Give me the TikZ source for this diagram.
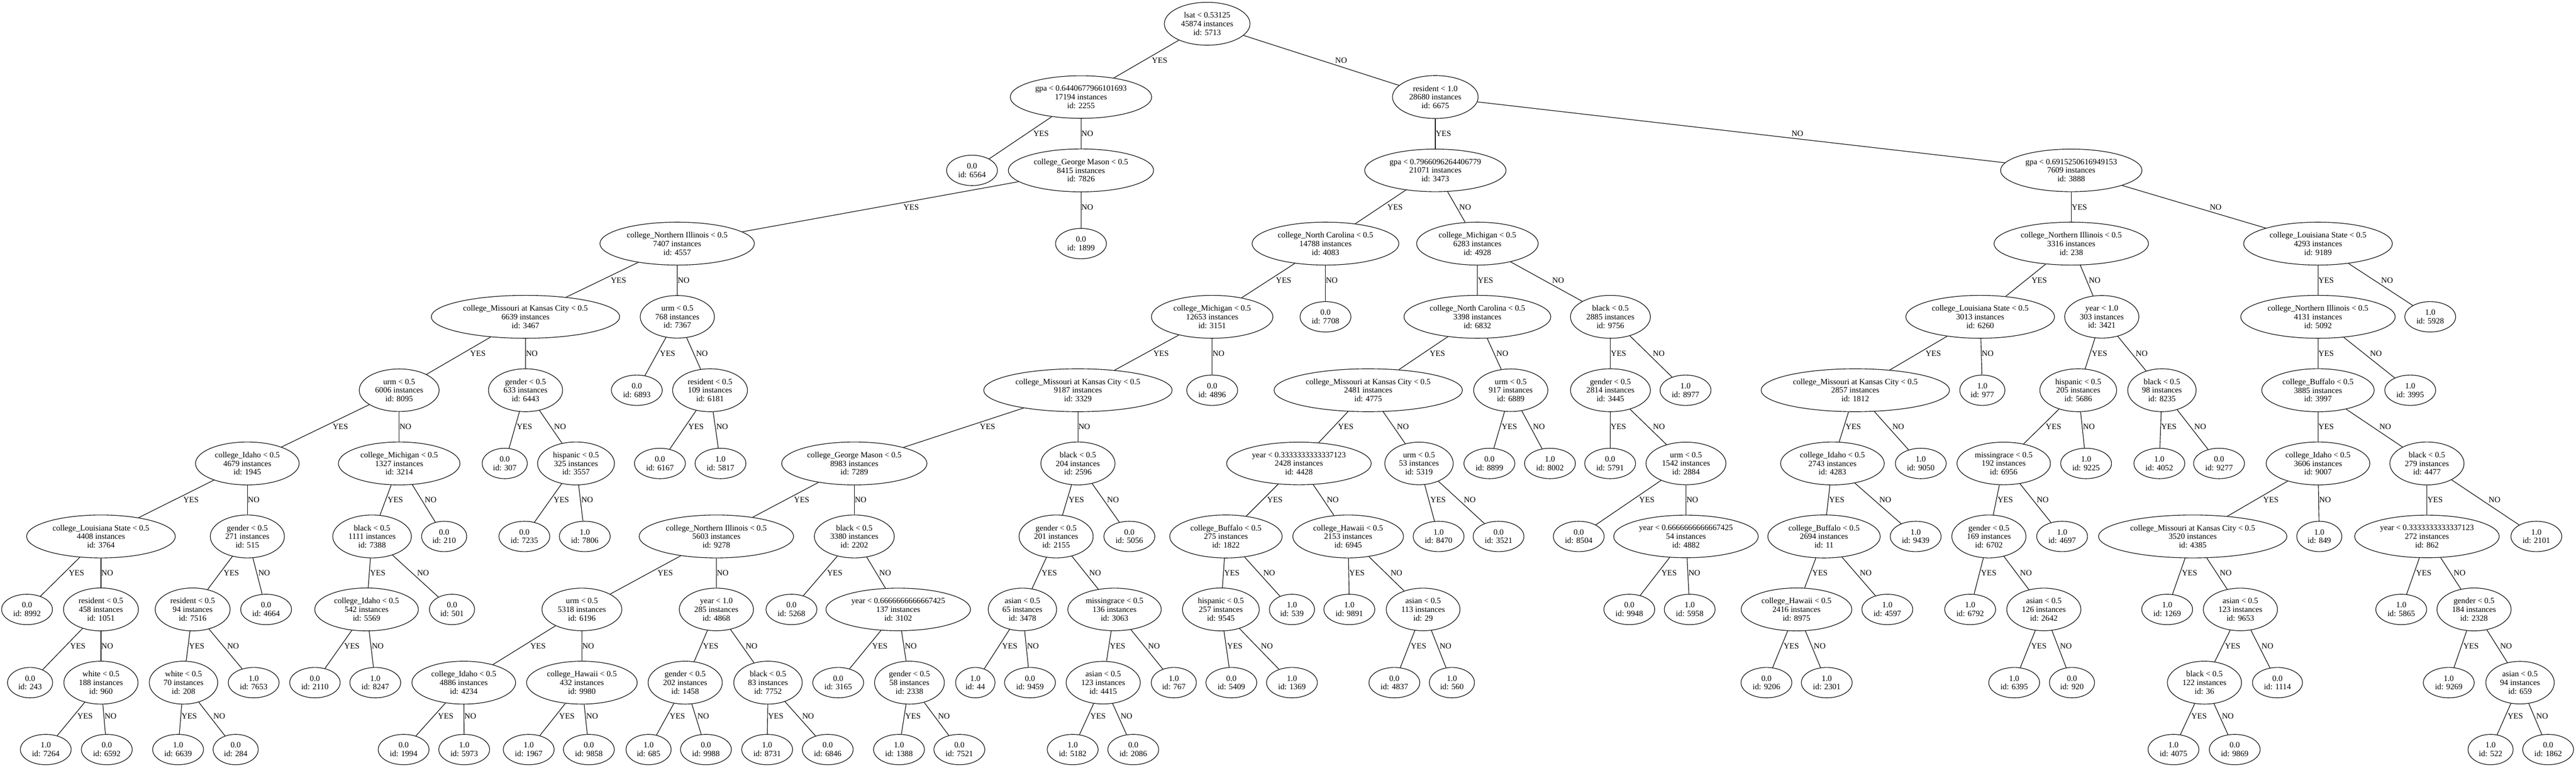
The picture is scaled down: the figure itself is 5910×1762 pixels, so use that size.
\documentclass[tikz,border=0pt]{standalone}
\usepackage{fontspec}
\setmainfont{Liberation Serif}
\usetikzlibrary{shapes.geometric,calc}
\newcommand\fsz{\fontsize{14}{14.85}\selectfont}
\tikzset{
  nd/.style={draw, ellipse, line width=1pt, inner xsep=7.2pt, inner ysep=6.3pt, align=center, font=\fsz},
  edgeline/.style={line width=1pt},
  lab/.style={anchor=west, inner sep=0.5pt, font=\fsz}
}
\newcommand\edg[3]{%
  \draw[edgeline] (#1) -- (#2);
  \path let \p1=(#1.center), \p2=(#2.center) in
    node[lab] at ({(\x1+\x2)/2+abs(\x2-\x1)/abs((\y2)-(\y1))*7.5pt},{((\y1)+(\y2))/2}) {#3};
}
\begin{document}
\begin{tikzpicture}[x=0.75pt,y=-0.75pt]
\useasboundingbox (0,0) rectangle (5910,1762);
% L0
\node[nd] (n5713) at (2769.5,54.5) {lsat < 0.53125\\45874 instances\\id: 5713};
% L1
\node[nd] (n2255) at (2480,222.7) {gpa < 0.6440677966101693\\17194 instances\\id: 2255};
\node[nd] (n6675) at (3293,222.7) {resident < 1.0\\28680 instances\\id: 6675};
% L2
\node[nd] (n6564) at (2230,391) {0.0\\id: 6564};
\node[nd] (n7826) at (2480,391) {college\_George Mason < 0.5\\8415 instances\\id: 7826};
\node[nd] (n3473) at (3293,391) {gpa < 0.7966096264406779\\21071 instances\\id: 3473};
\node[nd] (n3888) at (4752,391) {gpa < 0.6915250616949153\\7609 instances\\id: 3888};
% L3
\node[nd] (n4557) at (1553.6,559) {college\_Northern Illinois < 0.5\\7407 instances\\id: 4557};
\node[nd] (n1899) at (2480,559) {0.0\\id: 1899};
\node[nd] (n4083) at (3041,559) {college\_North Carolina < 0.5\\14788 instances\\id: 4083};
\node[nd] (n4928) at (3389.5,559) {college\_Michigan < 0.5\\6283 instances\\id: 4928};
\node[nd] (n238) at (4752,559) {college\_Northern Illinois < 0.5\\3316 instances\\id: 238};
\node[nd] (n9189) at (5318,559) {college\_Louisiana State < 0.5\\4293 instances\\id: 9189};
% L4
\node[nd] (n3467) at (1205.6,727) {college\_Missouri at Kansas City < 0.5\\6639 instances\\id: 3467};
\node[nd] (n7367) at (1554,727) {urm < 0.5\\768 instances\\id: 7367};
\node[nd] (n3151) at (2781,727) {college\_Michigan < 0.5\\12653 instances\\id: 3151};
\node[nd] (n7708) at (3041,727) {0.0\\id: 7708};
\node[nd] (n6832) at (3389.5,727) {college\_North Carolina < 0.5\\3398 instances\\id: 6832};
\node[nd] (n9756) at (3694.7,727) {black < 0.5\\2885 instances\\id: 9756};
\node[nd] (n6260) at (4543,727) {college\_Louisiana State < 0.5\\3013 instances\\id: 6260};
\node[nd] (n3421) at (4822,727) {year < 1.0\\303 instances\\id: 3421};
\node[nd] (n5092) at (5318,727) {college\_Northern Illinois < 0.5\\4131 instances\\id: 5092};
\node[nd] (n5928) at (5575.5,727) {1.0\\id: 5928};
% L5
\node[nd] (n8095) at (915.8,895.5) {urm < 0.5\\6006 instances\\id: 8095};
\node[nd] (n6443) at (1205.7,895.5) {gender < 0.5\\633 instances\\id: 6443};
\node[nd] (n6893) at (1461,895.5) {0.0\\id: 6893};
\node[nd] (n6181) at (1629,895.5) {resident < 0.5\\109 instances\\id: 6181};
\node[nd] (n3329) at (2473,895.5) {college\_Missouri at Kansas City < 0.5\\9187 instances\\id: 3329};
\node[nd] (n4896) at (2781,895.5) {0.0\\id: 4896};
\node[nd] (n4775) at (3139,895.5) {college\_Missouri at Kansas City < 0.5\\2481 instances\\id: 4775};
\node[nd] (n6889) at (3466,895.5) {urm < 0.5\\917 instances\\id: 6889};
\node[nd] (n3445) at (3694.7,895.5) {gender < 0.5\\2814 instances\\id: 3445};
\node[nd] (n8977) at (3867,895.5) {1.0\\id: 8977};
\node[nd] (n1812) at (4256.5,895.5) {college\_Missouri at Kansas City < 0.5\\2857 instances\\id: 1812};
\node[nd] (n977) at (4548,895.5) {1.0\\id: 977};
\node[nd] (n5686) at (4768,895.5) {hispanic < 0.5\\205 instances\\id: 5686};
\node[nd] (n8235) at (4960,895.5) {black < 0.5\\98 instances\\id: 8235};
\node[nd] (n3997) at (5318,895.5) {college\_Buffalo < 0.5\\3885 instances\\id: 3997};
\node[nd] (n3995) at (5529.6,895.5) {1.0\\id: 3995};
% L6
\node[nd] (n1945) at (567.5,1063.5) {college\_Idaho < 0.5\\4679 instances\\id: 1945};
\node[nd] (n3214) at (915.8,1063.5) {college\_Michigan < 0.5\\1327 instances\\id: 3214};
\node[nd] (n307) at (1158,1063.5) {0.0\\id: 307};
\node[nd] (n3557) at (1321.5,1063.5) {hispanic < 0.5\\325 instances\\id: 3557};
\node[nd] (n6167) at (1514,1063.5) {0.0\\id: 6167};
\node[nd] (n5817) at (1653,1063.5) {1.0\\id: 5817};
\node[nd] (n7289) at (1960,1063.5) {college\_George Mason < 0.5\\8983 instances\\id: 7289};
\node[nd] (n2596) at (2473,1063.5) {black < 0.5\\204 instances\\id: 2596};
\node[nd] (n4428) at (2980,1063.5) {year < 0.3333333333337123\\2428 instances\\id: 4428};
\node[nd] (n5319) at (3255.5,1063.5) {urm < 0.5\\53 instances\\id: 5319};
\node[nd] (n8899) at (3417,1063.5) {0.0\\id: 8899};
\node[nd] (n8002) at (3556,1063.5) {1.0\\id: 8002};
\node[nd] (n5791) at (3694,1063.5) {0.0\\id: 5791};
\node[nd] (n2884) at (3868,1063.5) {urm < 0.5\\1542 instances\\id: 2884};
\node[nd] (n4283) at (4204,1063.5) {college\_Idaho < 0.5\\2743 instances\\id: 4283};
\node[nd] (n9050) at (4406.7,1063.5) {1.0\\id: 9050};
\node[nd] (n6956) at (4597,1063.5) {missingrace < 0.5\\192 instances\\id: 6956};
\node[nd] (n9225) at (4786,1063.5) {1.0\\id: 9225};
\node[nd] (n4052) at (4954,1063.5) {1.0\\id: 4052};
\node[nd] (n9277) at (5091,1063.5) {0.0\\id: 9277};
\node[nd] (n9007) at (5318,1063.5) {college\_Idaho < 0.5\\3606 instances\\id: 9007};
\node[nd] (n4477) at (5568,1063.5) {black < 0.5\\279 instances\\id: 4477};
% L7
\node[nd] (n3764) at (231.6,1231) {college\_Louisiana State < 0.5\\4408 instances\\id: 3764};
\node[nd] (n515) at (567.5,1231) {gender < 0.5\\271 instances\\id: 515};
\node[nd] (n7388) at (853.6,1231) {black < 0.5\\1111 instances\\id: 7388};
\node[nd] (n210) at (1019,1231) {0.0\\id: 210};
\node[nd] (n7235) at (1203,1231) {0.0\\id: 7235};
\node[nd] (n7806) at (1341.6,1231) {1.0\\id: 7806};
\node[nd] (n9278) at (1643.5,1231) {college\_Northern Illinois < 0.5\\5603 instances\\id: 9278};
\node[nd] (n2202) at (1960,1231) {black < 0.5\\3380 instances\\id: 2202};
\node[nd] (n2155) at (2423,1231) {gender < 0.5\\201 instances\\id: 2155};
\node[nd] (n5056) at (2591,1231) {0.0\\id: 5056};
\node[nd] (n1822) at (2812.6,1231) {college\_Buffalo < 0.5\\275 instances\\id: 1822};
\node[nd] (n6945) at (3093,1231) {college\_Hawaii < 0.5\\2153 instances\\id: 6945};
\node[nd] (n8470) at (3300.5,1231) {1.0\\id: 8470};
\node[nd] (n3521) at (3438,1231) {0.0\\id: 3521};
\node[nd] (n8504) at (3622,1231) {0.0\\id: 8504};
\node[nd] (n4882) at (3868,1231) {year < 0.6666666666667425\\54 instances\\id: 4882};
\node[nd] (n11) at (4184.7,1231) {college\_Buffalo < 0.5\\2694 instances\\id: 11};
\node[nd] (n9439) at (4395,1231) {1.0\\id: 9439};
\node[nd] (n6702) at (4563,1231) {gender < 0.5\\169 instances\\id: 6702};
\node[nd] (n4697) at (4731,1231) {1.0\\id: 4697};
\node[nd] (n4385) at (5030.6,1231) {college\_Missouri at Kansas City < 0.5\\3520 instances\\id: 4385};
\node[nd] (n849) at (5321,1231) {1.0\\id: 849};
\node[nd] (n862) at (5568,1231) {year < 0.3333333333337123\\272 instances\\id: 862};
\node[nd] (n2101) at (5819,1231) {1.0\\id: 2101};
% L8
\node[nd] (n8992) at (62,1398.5) {0.0\\id: 8992};
\node[nd] (n1051) at (231.6,1398.5) {resident < 0.5\\458 instances\\id: 1051};
\node[nd] (n7516) at (442,1398.5) {resident < 0.5\\94 instances\\id: 7516};
\node[nd] (n4664) at (610.5,1398.5) {0.0\\id: 4664};
\node[nd] (n5569) at (841,1398.5) {college\_Idaho < 0.5\\542 instances\\id: 5569};
\node[nd] (n501) at (1037,1398.5) {0.0\\id: 501};
\node[nd] (n6196) at (1335,1398.5) {urm < 0.5\\5318 instances\\id: 6196};
\node[nd] (n4868) at (1643.5,1398.5) {year < 1.0\\285 instances\\id: 4868};
\node[nd] (n5268) at (1815.8,1398.5) {0.0\\id: 5268};
\node[nd] (n3102) at (2060.7,1398.5) {year < 0.6666666666667425\\137 instances\\id: 3102};
\node[nd] (n3478) at (2345.7,1398.5) {asian < 0.5\\65 instances\\id: 3478};
\node[nd] (n3063) at (2557,1398.5) {missingrace < 0.5\\136 instances\\id: 3063};
\node[nd] (n9545) at (2801,1398.5) {hispanic < 0.5\\257 instances\\id: 9545};
\node[nd] (n539) at (2964,1398.5) {1.0\\id: 539};
\node[nd] (n9891) at (3095.7,1398.5) {1.0\\id: 9891};
\node[nd] (n29) at (3265,1398.5) {asian < 0.5\\113 instances\\id: 29};
\node[nd] (n9948) at (3738,1398.5) {0.0\\id: 9948};
\node[nd] (n5958) at (3876.6,1398.5) {1.0\\id: 5958};
\node[nd] (n8975) at (4121.6,1398.5) {college\_Hawaii < 0.5\\2416 instances\\id: 8975};
\node[nd] (n4597) at (4330,1398.5) {1.0\\id: 4597};
\node[nd] (n6792) at (4520,1398.5) {1.0\\id: 6792};
\node[nd] (n2642) at (4689,1398.5) {asian < 0.5\\126 instances\\id: 2642};
\node[nd] (n1269) at (4972,1398.5) {1.0\\id: 1269};
\node[nd] (n9653) at (5140,1398.5) {asian < 0.5\\123 instances\\id: 9653};
\node[nd] (n5865) at (5509,1398.5) {1.0\\id: 5865};
\node[nd] (n2328) at (5676,1398.5) {gender < 0.5\\184 instances\\id: 2328};
% L9
\node[nd] (n243) at (69,1566.5) {0.0\\id: 243};
\node[nd] (n960) at (231.6,1566.5) {white < 0.5\\188 instances\\id: 960};
\node[nd] (n208) at (421,1566.5) {white < 0.5\\70 instances\\id: 208};
\node[nd] (n7653) at (582,1566.5) {1.0\\id: 7653};
\node[nd] (n2110) at (722.5,1566.5) {0.0\\id: 2110};
\node[nd] (n8247) at (861,1566.5) {1.0\\id: 8247};
\node[nd] (n4234) at (1064,1566.5) {college\_Idaho < 0.5\\4886 instances\\id: 4234};
\node[nd] (n9980) at (1335,1566.5) {college\_Hawaii < 0.5\\432 instances\\id: 9980};
\node[nd] (n1458) at (1572,1566.5) {gender < 0.5\\202 instances\\id: 1458};
\node[nd] (n7752) at (1762,1566.5) {black < 0.5\\83 instances\\id: 7752};
\node[nd] (n3165) at (1923,1566.5) {0.0\\id: 3165};
\node[nd] (n2338) at (2086.5,1566.5) {gender < 0.5\\58 instances\\id: 2338};
\node[nd] (n44) at (2237.6,1566.5) {1.0\\id: 44};
\node[nd] (n9459) at (2363,1566.5) {0.0\\id: 9459};
\node[nd] (n4415) at (2531,1566.5) {asian < 0.5\\123 instances\\id: 4415};
\node[nd] (n767) at (2693,1566.5) {1.0\\id: 767};
\node[nd] (n5409) at (2825,1566.5) {0.0\\id: 5409};
\node[nd] (n1369) at (2964,1566.5) {1.0\\id: 1369};
\node[nd] (n4837) at (3199,1566.5) {0.0\\id: 4837};
\node[nd] (n560) at (3331,1566.5) {1.0\\id: 560};
\node[nd] (n9206) at (4052.6,1566.5) {0.0\\id: 9206};
\node[nd] (n2301) at (4191,1566.5) {1.0\\id: 2301};
\node[nd] (n6395) at (4621,1566.5) {1.0\\id: 6395};
\node[nd] (n920) at (4753.6,1566.5) {0.0\\id: 920};
\node[nd] (n36) at (5057.5,1566.5) {black < 0.5\\122 instances\\id: 36};
\node[nd] (n1114) at (5225,1566.5) {0.0\\id: 1114};
\node[nd] (n9269) at (5618,1566.5) {1.0\\id: 9269};
\node[nd] (n659) at (5781.5,1566.5) {asian < 0.5\\94 instances\\id: 659};
% L10
\node[nd] (n7264) at (105,1720) {1.0\\id: 7264};
\node[nd] (n6592) at (245,1720) {0.0\\id: 6592};
\node[nd] (n6639) at (408.6,1720) {1.0\\id: 6639};
\node[nd] (n284) at (540.7,1720) {0.0\\id: 284};
\node[nd] (n1994) at (926,1720) {0.0\\id: 1994};
\node[nd] (n5973) at (1065,1720) {1.0\\id: 5973};
\node[nd] (n1967) at (1213,1720) {1.0\\id: 1967};
\node[nd] (n9858) at (1351,1720) {0.0\\id: 9858};
\node[nd] (n685) at (1488,1720) {1.0\\id: 685};
\node[nd] (n9988) at (1619.6,1720) {0.0\\id: 9988};
\node[nd] (n8731) at (1760,1720) {1.0\\id: 8731};
\node[nd] (n6846) at (1899,1720) {0.0\\id: 6846};
\node[nd] (n1388) at (2062.5,1720) {1.0\\id: 1388};
\node[nd] (n7521) at (2201,1720) {0.0\\id: 7521};
\node[nd] (n5182) at (2461,1720) {1.0\\id: 5182};
\node[nd] (n2086) at (2600,1720) {0.0\\id: 2086};
\node[nd] (n4075) at (4986.5,1720) {1.0\\id: 4075};
\node[nd] (n9869) at (5127,1720) {0.0\\id: 9869};
\node[nd] (n522) at (5714,1720) {1.0\\id: 522};
\node[nd] (n1862) at (5846,1720) {0.0\\id: 1862};
% edges
\edg{n5713}{n2255}{YES} \edg{n5713}{n6675}{NO}
\edg{n2255}{n6564}{YES} \edg{n2255}{n7826}{NO}
\edg{n7826}{n4557}{YES} \edg{n7826}{n1899}{NO}
\edg{n4557}{n3467}{YES} \edg{n4557}{n7367}{NO}
\edg{n3467}{n8095}{YES} \edg{n3467}{n6443}{NO}
\edg{n7367}{n6893}{YES} \edg{n7367}{n6181}{NO}
\edg{n8095}{n1945}{YES} \edg{n8095}{n3214}{NO}
\edg{n6443}{n307}{YES} \edg{n6443}{n3557}{NO}
\edg{n6181}{n6167}{YES} \edg{n6181}{n5817}{NO}
\edg{n1945}{n3764}{YES} \edg{n1945}{n515}{NO}
\edg{n3214}{n7388}{YES} \edg{n3214}{n210}{NO}
\edg{n3557}{n7235}{YES} \edg{n3557}{n7806}{NO}
\edg{n3764}{n8992}{YES} \edg{n3764}{n1051}{NO}
\edg{n515}{n7516}{YES} \edg{n515}{n4664}{NO}
\edg{n7388}{n5569}{YES} \edg{n7388}{n501}{NO}
\edg{n1051}{n243}{YES} \edg{n1051}{n960}{NO}
\edg{n7516}{n208}{YES} \edg{n7516}{n7653}{NO}
\edg{n5569}{n2110}{YES} \edg{n5569}{n8247}{NO}
\edg{n960}{n7264}{YES} \edg{n960}{n6592}{NO}
\edg{n208}{n6639}{YES} \edg{n208}{n284}{NO}
\edg{n6675}{n3473}{YES} \edg{n6675}{n3888}{NO}
\edg{n3473}{n4083}{YES} \edg{n3473}{n4928}{NO}
\edg{n4083}{n3151}{YES} \edg{n4083}{n7708}{NO}
\edg{n3151}{n3329}{YES} \edg{n3151}{n4896}{NO}
\edg{n3329}{n7289}{YES} \edg{n3329}{n2596}{NO}
\edg{n7289}{n9278}{YES} \edg{n7289}{n2202}{NO}
\edg{n2596}{n2155}{YES} \edg{n2596}{n5056}{NO}
\edg{n9278}{n6196}{YES} \edg{n9278}{n4868}{NO}
\edg{n2202}{n5268}{YES} \edg{n2202}{n3102}{NO}
\edg{n2155}{n3478}{YES} \edg{n2155}{n3063}{NO}
\edg{n6196}{n4234}{YES} \edg{n6196}{n9980}{NO}
\edg{n4868}{n1458}{YES} \edg{n4868}{n7752}{NO}
\edg{n3102}{n3165}{YES} \edg{n3102}{n2338}{NO}
\edg{n3478}{n44}{YES} \edg{n3478}{n9459}{NO}
\edg{n3063}{n4415}{YES} \edg{n3063}{n767}{NO}
\edg{n4234}{n1994}{YES} \edg{n4234}{n5973}{NO}
\edg{n9980}{n1967}{YES} \edg{n9980}{n9858}{NO}
\edg{n1458}{n685}{YES} \edg{n1458}{n9988}{NO}
\edg{n7752}{n8731}{YES} \edg{n7752}{n6846}{NO}
\edg{n2338}{n1388}{YES} \edg{n2338}{n7521}{NO}
\edg{n4415}{n5182}{YES} \edg{n4415}{n2086}{NO}
\edg{n4928}{n6832}{YES} \edg{n4928}{n9756}{NO}
\edg{n6832}{n4775}{YES} \edg{n6832}{n6889}{NO}
\edg{n9756}{n3445}{YES} \edg{n9756}{n8977}{NO}
\edg{n4775}{n4428}{YES} \edg{n4775}{n5319}{NO}
\edg{n6889}{n8899}{YES} \edg{n6889}{n8002}{NO}
\edg{n3445}{n5791}{YES} \edg{n3445}{n2884}{NO}
\edg{n4428}{n1822}{YES} \edg{n4428}{n6945}{NO}
\edg{n5319}{n8470}{YES} \edg{n5319}{n3521}{NO}
\edg{n2884}{n8504}{YES} \edg{n2884}{n4882}{NO}
\edg{n1822}{n9545}{YES} \edg{n1822}{n539}{NO}
\edg{n6945}{n9891}{YES} \edg{n6945}{n29}{NO}
\edg{n4882}{n9948}{YES} \edg{n4882}{n5958}{NO}
\edg{n9545}{n5409}{YES} \edg{n9545}{n1369}{NO}
\edg{n29}{n4837}{YES} \edg{n29}{n560}{NO}
\edg{n3888}{n238}{YES} \edg{n3888}{n9189}{NO}
\edg{n238}{n6260}{YES} \edg{n238}{n3421}{NO}
\edg{n9189}{n5092}{YES} \edg{n9189}{n5928}{NO}
\edg{n6260}{n1812}{YES} \edg{n6260}{n977}{NO}
\edg{n3421}{n5686}{YES} \edg{n3421}{n8235}{NO}
\edg{n5092}{n3997}{YES} \edg{n5092}{n3995}{NO}
\edg{n1812}{n4283}{YES} \edg{n1812}{n9050}{NO}
\edg{n5686}{n6956}{YES} \edg{n5686}{n9225}{NO}
\edg{n8235}{n4052}{YES} \edg{n8235}{n9277}{NO}
\edg{n3997}{n9007}{YES} \edg{n3997}{n4477}{NO}
\edg{n4283}{n11}{YES} \edg{n4283}{n9439}{NO}
\edg{n6956}{n6702}{YES} \edg{n6956}{n4697}{NO}
\edg{n9007}{n4385}{YES} \edg{n9007}{n849}{NO}
\edg{n4477}{n862}{YES} \edg{n4477}{n2101}{NO}
\edg{n11}{n8975}{YES} \edg{n11}{n4597}{NO}
\edg{n6702}{n6792}{YES} \edg{n6702}{n2642}{NO}
\edg{n4385}{n1269}{YES} \edg{n4385}{n9653}{NO}
\edg{n862}{n5865}{YES} \edg{n862}{n2328}{NO}
\edg{n8975}{n9206}{YES} \edg{n8975}{n2301}{NO}
\edg{n2642}{n6395}{YES} \edg{n2642}{n920}{NO}
\edg{n9653}{n36}{YES} \edg{n9653}{n1114}{NO}
\edg{n2328}{n9269}{YES} \edg{n2328}{n659}{NO}
\edg{n36}{n4075}{YES} \edg{n36}{n9869}{NO}
\edg{n659}{n522}{YES} \edg{n659}{n1862}{NO}
\end{tikzpicture}
\end{document}
